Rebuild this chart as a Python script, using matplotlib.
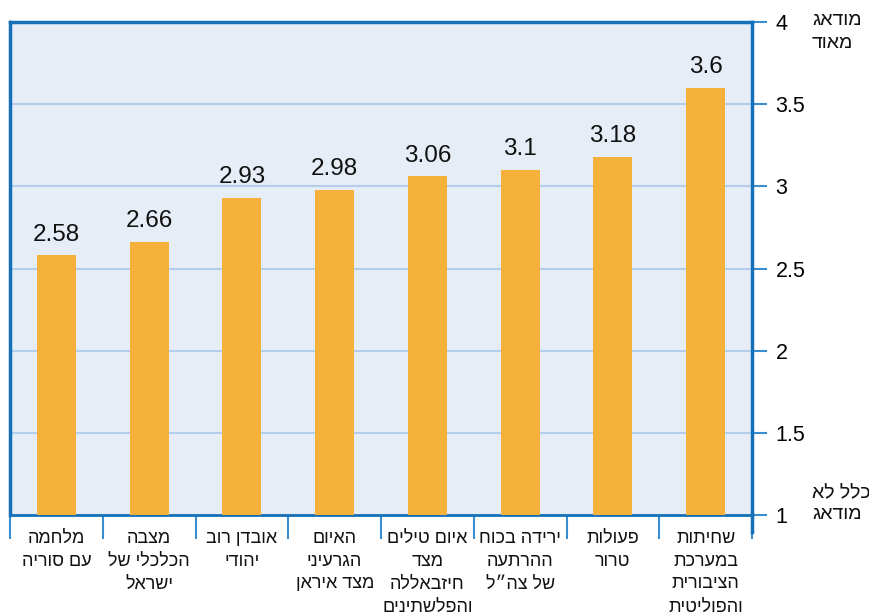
import matplotlib
matplotlib.use("Agg")
import matplotlib.pyplot as plt
from matplotlib.ticker import FixedLocator

plt.rcParams['font.family'] = ['Liberation Sans', 'DejaVu Sans']

categories = [
    "מלחמה\nעם סוריה",
    "מצבה\nהכלכלי של\nישראל",
    "אובדן רוב\nיהודי",
    "האיום\nהגרעיני\nמצד איראן",
    "איום טילים\nמצד\nחיזבאללה\nוהפלשתינים",
    "ירידה בכוח\nההרתעה\nשל צה״ל",
    "פעולות\nטרור",
    "שחיתות\nבמערכת\nהציבורית\nוהפוליטית",
]
values = [2.58, 2.66, 2.93, 2.98, 3.06, 3.1, 3.18, 3.6]
value_labels = ["2.58", "2.66", "2.93", "2.98", "3.06", "3.1", "3.18", "3.6"]
yticks = [1, 1.5, 2, 2.5, 3, 3.5, 4]
ytick_labels = ["1", "1.5", "2", "2.5", "3", "3.5", "4"]
top_label = "מודאג\nמאוד"
bottom_label = "כלל לא\nמודאג"


def rtl(s):
    return "\n".join(line[::-1] for line in s.split("\n"))


W, H = 869, 615
fig = plt.figure(figsize=(W / 100, H / 100), dpi=100)
left, right, top, bottom = 10, 752, 22, 515
ax = fig.add_axes([left / W, 1 - bottom / H, (right - left) / W, (bottom - top) / H])

bar_color = "#F6B13A"
bg = "#E6EDF7"
grid_c = "#B3CDEA"
spine_c = "#1570B8"
tick_c = "#3A8ED0"

ax.set_facecolor(bg)
n = len(values)
x = list(range(n))
ax.bar(x, [v - 1 for v in values], bottom=1, width=0.42, color=bar_color, zorder=3)
ax.set_xlim(-0.5, n - 0.5)
ax.set_ylim(1, 4)

for xi, v, lab in zip(x, values, value_labels):
    ax.text(xi, v + 0.09, lab, ha="center", va="baseline", fontsize=17.5, color="#111111")

ax.yaxis.tick_right()
ax.set_yticks(yticks)
ax.set_yticklabels(ytick_labels, fontsize=15.5)
ax.tick_params(axis="y", direction="out", length=11, width=1.5, color=tick_c, pad=6)
ax.grid(axis="y", color=grid_c, linewidth=1.5, zorder=1)

# x axis: category boundaries as ticks
ax.xaxis.set_major_locator(FixedLocator([i - 0.5 for i in range(n + 1)]))
ax.set_xticklabels([])
ax.tick_params(axis="x", direction="out", length=17, width=1.5, color=tick_c)

for i, c in enumerate(categories):
    ax.text(i, -0.03, rtl(c), transform=ax.get_xaxis_transform(), ha="center", va="top",
            fontsize=13, linespacing=1.45, color="#111111")

for s in ["left", "top", "right"]:
    ax.spines[s].set_color(spine_c)
    ax.spines[s].set_linewidth(2.5)
ax.spines["bottom"].set_color(spine_c)
ax.spines["bottom"].set_linewidth(2)

# extend right axis line below the plot
ax.plot([1, 1], [0, -0.035], transform=ax.transAxes, color=spine_c, lw=2.5, clip_on=False)

fig.text(812 / W, 1 - 32 / H, rtl(top_label), ha="left", va="center", fontsize=14,
         linespacing=1.45, color="#111111")
fig.text(812 / W, 1 - 504 / H, rtl(bottom_label), ha="left", va="center", fontsize=14,
         linespacing=1.3, color="#111111")

fig.savefig("out.png", dpi=100)
